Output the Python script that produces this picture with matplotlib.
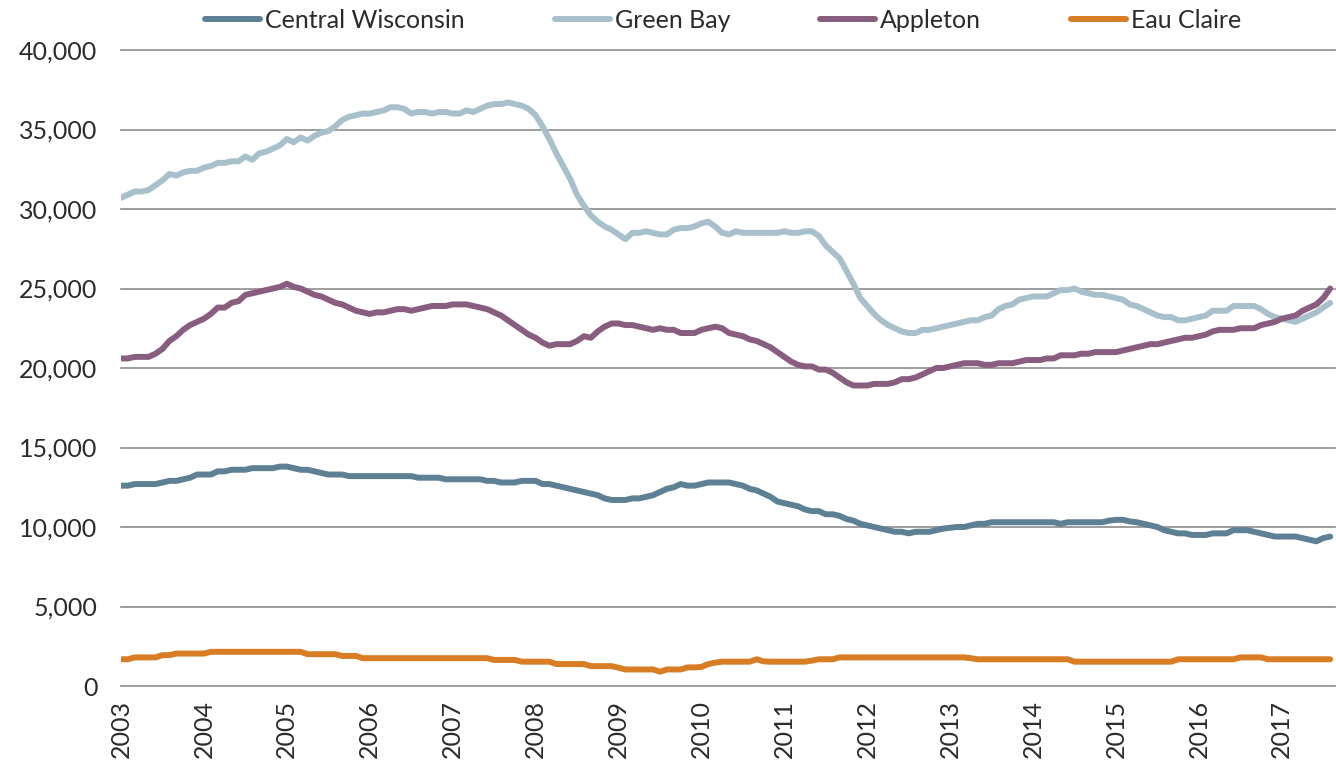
import matplotlib.pyplot as plt
import numpy as np

# monthly values, Jan 2003 .. Aug 2017 (thousands)
central_wisconsin = [
    12.6, 12.6, 12.7, 12.7, 12.7, 12.7, 12.8, 12.9, 12.9, 13.0, 13.1, 13.3,
    13.3, 13.3, 13.5, 13.5, 13.6, 13.6, 13.6, 13.7, 13.7, 13.7, 13.7, 13.8,
    13.8, 13.7, 13.6, 13.6, 13.5, 13.4, 13.3, 13.3, 13.3, 13.2, 13.2, 13.2,
    13.2, 13.2, 13.2, 13.2, 13.2, 13.2, 13.2, 13.1, 13.1, 13.1, 13.1, 13.0,
    13.0, 13.0, 13.0, 13.0, 13.0, 12.9, 12.9, 12.8, 12.8, 12.8, 12.9, 12.9,
    12.9, 12.7, 12.7, 12.6, 12.5, 12.4, 12.3, 12.2, 12.1, 12.0, 11.8, 11.7,
    11.7, 11.7, 11.8, 11.8, 11.9, 12.0, 12.2, 12.4, 12.5, 12.7, 12.6, 12.6,
    12.7, 12.8, 12.8, 12.8, 12.8, 12.7, 12.6, 12.4, 12.3, 12.1, 11.9, 11.6,
    11.5, 11.4, 11.3, 11.1, 11.0, 11.0, 10.8, 10.8, 10.7, 10.5, 10.4, 10.2,
    10.1, 10.0, 9.9, 9.8, 9.7, 9.7, 9.6, 9.7, 9.7, 9.7, 9.8, 9.9,
    9.95, 10.0, 10.0, 10.1, 10.2, 10.2, 10.3, 10.3, 10.3, 10.3, 10.3, 10.3,
    10.3, 10.3, 10.3, 10.3, 10.2, 10.3, 10.3, 10.3, 10.3, 10.3, 10.3, 10.4,
    10.45, 10.45, 10.35, 10.3, 10.2, 10.1, 10.0, 9.8, 9.7, 9.6, 9.6, 9.5,
    9.5, 9.5, 9.6, 9.6, 9.6, 9.8, 9.8, 9.8, 9.7, 9.6, 9.5, 9.4,
    9.4, 9.4, 9.4, 9.3, 9.2, 9.1, 9.3, 9.4,
]
green_bay = [
    30.7, 30.9, 31.1, 31.1, 31.2, 31.5, 31.8, 32.2, 32.1, 32.3, 32.4, 32.4,
    32.6, 32.7, 32.9, 32.9, 33.0, 33.0, 33.3, 33.1, 33.5, 33.6, 33.8, 34.0,
    34.4, 34.2, 34.5, 34.3, 34.6, 34.8, 34.9, 35.2, 35.6, 35.8, 35.9, 36.0,
    36.0, 36.1, 36.2, 36.4, 36.4, 36.3, 36.0, 36.1, 36.1, 36.0, 36.1, 36.1,
    36.0, 36.0, 36.2, 36.1, 36.3, 36.5, 36.6, 36.6, 36.7, 36.6, 36.5, 36.3,
    35.9, 35.2, 34.4, 33.5, 32.7, 31.9, 30.9, 30.2, 29.6, 29.2, 28.9, 28.7,
    28.4, 28.1, 28.5, 28.5, 28.6, 28.5, 28.4, 28.4, 28.7, 28.8, 28.8, 28.9,
    29.1, 29.2, 28.9, 28.5, 28.4, 28.6, 28.5, 28.5, 28.5, 28.5, 28.5, 28.5,
    28.6, 28.5, 28.5, 28.6, 28.6, 28.3, 27.7, 27.3, 26.9, 26.1, 25.3, 24.4,
    23.9, 23.4, 23.0, 22.7, 22.5, 22.3, 22.2, 22.2, 22.4, 22.4, 22.5, 22.6,
    22.7, 22.8, 22.9, 23.0, 23.0, 23.2, 23.3, 23.7, 23.9, 24.0, 24.3, 24.4,
    24.5, 24.5, 24.5, 24.7, 24.9, 24.9, 25.0, 24.8, 24.7, 24.6, 24.6, 24.5,
    24.4, 24.3, 24.0, 23.9, 23.7, 23.5, 23.3, 23.2, 23.2, 23.0, 23.0, 23.1,
    23.2, 23.3, 23.6, 23.6, 23.6, 23.9, 23.9, 23.9, 23.9, 23.7, 23.4, 23.2,
    23.1, 23.0, 22.9, 23.1, 23.3, 23.5, 23.8, 24.1,
]
appleton = [
    20.6, 20.6, 20.7, 20.7, 20.7, 20.9, 21.2, 21.7, 22.0, 22.4, 22.7, 22.9,
    23.1, 23.4, 23.8, 23.8, 24.1, 24.2, 24.6, 24.7, 24.8, 24.9, 25.0, 25.1,
    25.3, 25.1, 25.0, 24.8, 24.6, 24.5, 24.3, 24.1, 24.0, 23.8, 23.6, 23.5,
    23.4, 23.5, 23.5, 23.6, 23.7, 23.7, 23.6, 23.7, 23.8, 23.9, 23.9, 23.9,
    24.0, 24.0, 24.0, 23.9, 23.8, 23.7, 23.5, 23.3, 23.0, 22.7, 22.4, 22.1,
    21.9, 21.6, 21.4, 21.5, 21.5, 21.5, 21.7, 22.0, 21.9, 22.3, 22.6, 22.8,
    22.8, 22.7, 22.7, 22.6, 22.5, 22.4, 22.5, 22.4, 22.4, 22.2, 22.2, 22.2,
    22.4, 22.5, 22.6, 22.5, 22.2, 22.1, 22.0, 21.8, 21.7, 21.5, 21.3, 21.0,
    20.7, 20.4, 20.2, 20.1, 20.1, 19.9, 19.9, 19.7, 19.4, 19.1, 18.9, 18.9,
    18.9, 19.0, 19.0, 19.0, 19.1, 19.3, 19.3, 19.4, 19.6, 19.8, 20.0, 20.0,
    20.1, 20.2, 20.3, 20.3, 20.3, 20.2, 20.2, 20.3, 20.3, 20.3, 20.4, 20.5,
    20.5, 20.5, 20.6, 20.6, 20.8, 20.8, 20.8, 20.9, 20.9, 21.0, 21.0, 21.0,
    21.0, 21.1, 21.2, 21.3, 21.4, 21.5, 21.5, 21.6, 21.7, 21.8, 21.9, 21.9,
    22.0, 22.1, 22.3, 22.4, 22.4, 22.4, 22.5, 22.5, 22.5, 22.7, 22.8, 22.9,
    23.1, 23.2, 23.3, 23.6, 23.8, 24.0, 24.4, 25.0,
]
eau_claire = [
    1.68, 1.68, 1.8, 1.8, 1.8, 1.8, 1.94, 1.94, 2.04, 2.04, 2.04, 2.04,
    2.04, 2.15, 2.15, 2.15, 2.15, 2.15, 2.15, 2.15, 2.15, 2.15, 2.15, 2.15,
    2.15, 2.15, 2.15, 2.0, 2.0, 2.0, 2.0, 2.0, 1.89, 1.89, 1.89, 1.75,
    1.75, 1.75, 1.75, 1.75, 1.75, 1.75, 1.75, 1.75, 1.75, 1.75, 1.75, 1.75,
    1.75, 1.75, 1.75, 1.75, 1.75, 1.75, 1.64, 1.64, 1.64, 1.64, 1.53, 1.53,
    1.53, 1.53, 1.53, 1.38, 1.38, 1.38, 1.38, 1.38, 1.25, 1.25, 1.25, 1.25,
    1.15, 1.04, 1.04, 1.04, 1.04, 1.04, 0.9, 1.04, 1.04, 1.04, 1.17, 1.17,
    1.2, 1.38, 1.47, 1.53, 1.53, 1.53, 1.53, 1.53, 1.68, 1.55, 1.53, 1.53,
    1.53, 1.53, 1.53, 1.53, 1.6, 1.68, 1.68, 1.68, 1.8, 1.8, 1.8, 1.8,
    1.8, 1.8, 1.8, 1.8, 1.8, 1.8, 1.8, 1.8, 1.8, 1.8, 1.8, 1.8,
    1.8, 1.8, 1.8, 1.75, 1.68, 1.68, 1.68, 1.68, 1.68, 1.68, 1.68, 1.68,
    1.68, 1.68, 1.68, 1.68, 1.68, 1.68, 1.53, 1.53, 1.53, 1.53, 1.53, 1.53,
    1.53, 1.53, 1.53, 1.53, 1.53, 1.53, 1.53, 1.53, 1.53, 1.68, 1.68, 1.68,
    1.68, 1.68, 1.68, 1.68, 1.68, 1.68, 1.8, 1.8, 1.8, 1.8, 1.68, 1.68,
    1.68, 1.68, 1.68, 1.68, 1.68, 1.68, 1.68, 1.68,
]
years = [str(y) for y in range(2003, 2018)]

series = [
    ("Central Wisconsin", central_wisconsin, "#5D8094"),
    ("Green Bay", green_bay, "#A7C0CB"),
    ("Appleton", appleton, "#885D7F"),
    ("Eau Claire", eau_claire, "#D87D23"),
]

plt.rcParams['font.family'] = ['Lato', 'DejaVu Sans']
txt = "#2b2b2b"

fig = plt.figure(figsize=(13.36, 7.64), dpi=100)
ax = fig.add_axes([121 / 1336, 1 - 686 / 764, (1335 - 121) / 1336, (686 - 50) / 764])

for name, vals, col in series:
    m = np.arange(len(vals))
    ax.plot(m, np.array(vals) * 1000, color=col, lw=4.3, label=name,
            solid_capstyle='round', solid_joinstyle='round')

ax.set_xlim(0, 175.7)
ax.set_ylim(0, 40000)
ax.set_yticks(range(0, 40001, 5000))
ax.set_yticklabels([f"{v:,}" for v in range(0, 40001, 5000)], fontsize=18, color=txt)
ax.set_xticks(range(0, 12 * len(years), 12))
ax.set_xticklabels(years, rotation=90, fontsize=18, color=txt)
ax.tick_params(length=0)
ax.tick_params(axis='y', pad=17)
ax.tick_params(axis='x', pad=10)
for s in ax.spines.values():
    s.set_visible(False)
ax.grid(axis='y', color='#8c8c8c', lw=1.2, zorder=0, clip_on=False)
ax.set_axisbelow(True)

fig.legend(loc='center left', bbox_to_anchor=(205 / 1336, 1 - 20 / 764), ncol=4,
           frameon=False, fontsize=18, handlelength=2.2, handletextpad=0.2,
           columnspacing=3.6, labelcolor=txt, borderaxespad=0, borderpad=0)

fig.savefig("out.png", dpi=100)
